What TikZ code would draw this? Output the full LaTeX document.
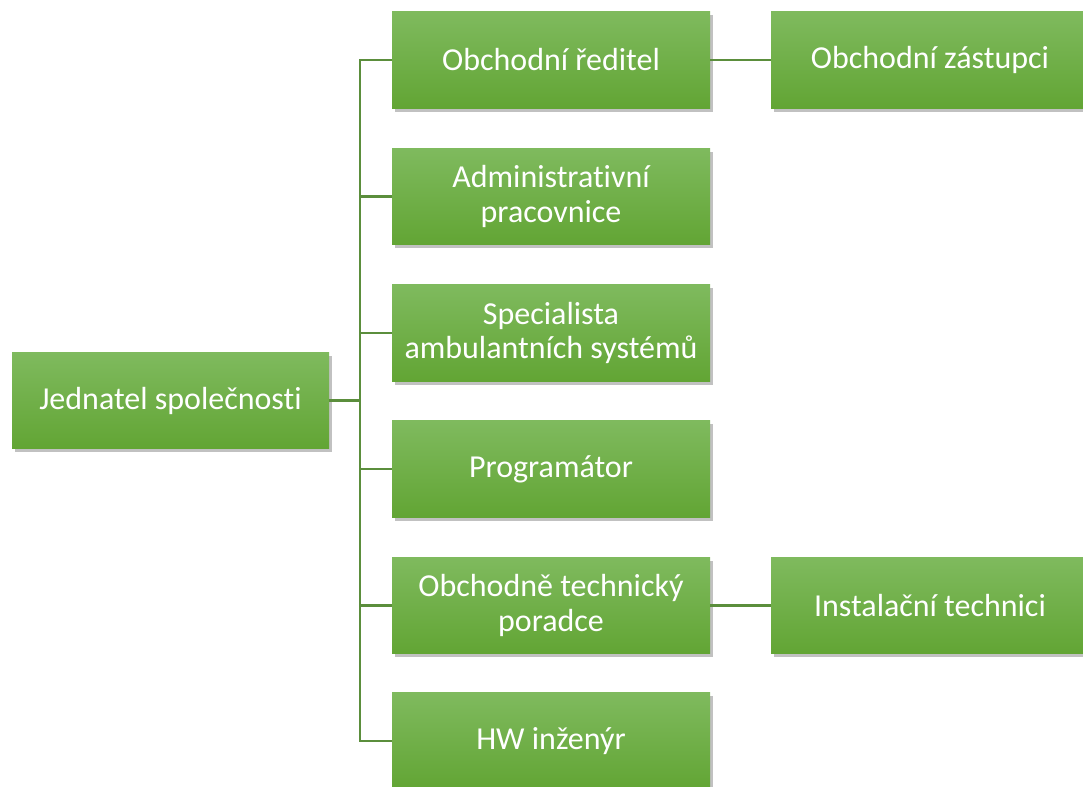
\documentclass[tikz,border=0pt]{standalone}
\usepackage{fontspec}
\setmainfont[Ligatures={NoCommon}]{Carlito}
\usetikzlibrary{shadows,calc}
\definecolor{boxtop}{HTML}{7FBA5E}
\definecolor{boxbottom}{HTML}{62A534}
\definecolor{linkgreen}{HTML}{5B8E3C}

\tikzset{
  orgbox/.style={rectangle,minimum width=6.36cm,minimum height=1.93cm,
    top color=boxtop,bottom color=boxbottom,draw=none,text=white,
    align=center,font=\fontsize{18.2}{19.6}\selectfont,
    drop shadow={shadow xshift=0.05cm,shadow yshift=-0.07cm,opacity=0.35,fill=black!70}},
  link/.style={linkgreen,line width=1.3pt}
}

\begin{document}
\begin{tikzpicture}
  \useasboundingbox (0,0) rectangle (21.66,-15.74);
  % boss
  \node[orgbox,minimum width=6.34cm] (ceo) at (3.41,-8.01) {Jednatel společnosti};
  % second level
  \node[orgbox] (sales) at (11.02,-1.20) {Obchodní ředitel};
  \node[orgbox] (admin) at (11.02,-3.93) {Administrativní\\pracovnice};
  \node[orgbox] (spec)  at (11.02,-6.66) {Specialista\\ambulantních systémů};
  \node[orgbox] (prog)  at (11.02,-9.38) {Programátor};
  \node[orgbox] (tech)  at (11.02,-12.11) {Obchodně technický\\poradce};
  \node[orgbox] (hw)    at (11.02,-14.82) {HW inženýr};
  % third level
  \node[orgbox] (agents)  at (18.60,-1.20) {Obchodní zástupci};
  \node[orgbox] (install) at (18.60,-12.11) {Instalační technici};
  % connectors
  \coordinate (bus) at (7.20,-8.01);
  \draw[link] (ceo.east) -- (bus);
  \draw[link] (sales.west) -| (bus |- hw.west) -- (hw.west);
  \foreach \n in {admin,spec,prog,tech}
    \draw[link] (bus |- \n.west) -- (\n.west);
  \draw[link] (sales.east) -- (agents.west);
  \draw[link] (tech.east) -- (install.west);
\end{tikzpicture}
\end{document}
